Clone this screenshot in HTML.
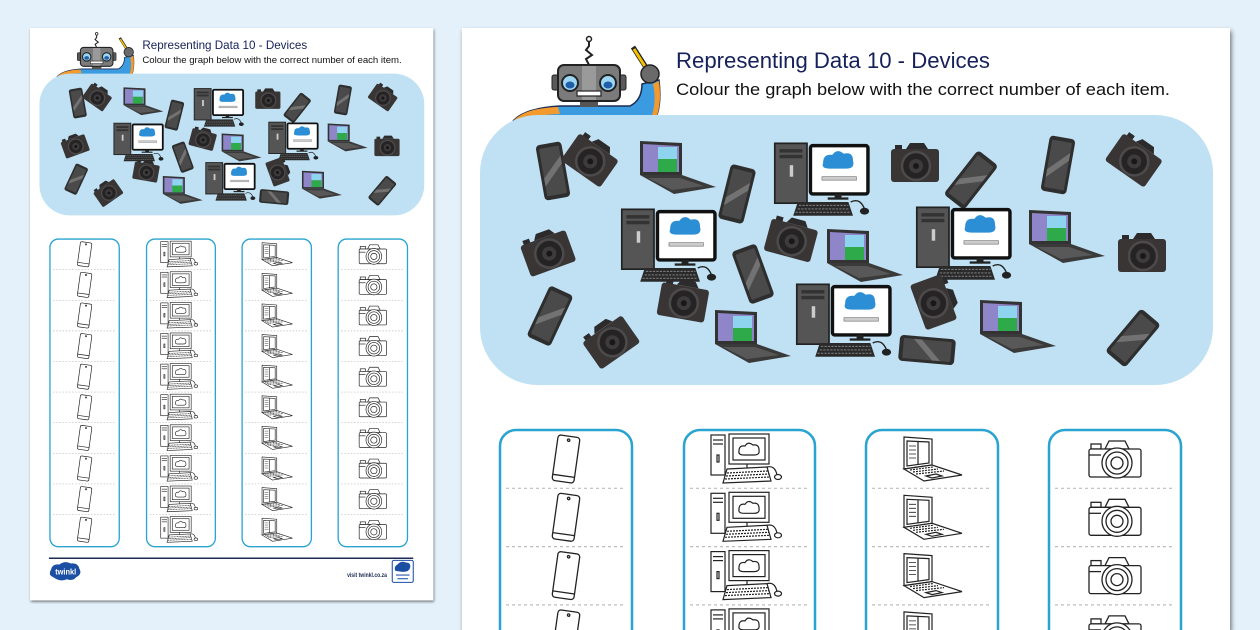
<!DOCTYPE html>
<html><head><meta charset="utf-8">
<style>
html,body{margin:0;padding:0;}
body{width:1260px;height:630px;overflow:hidden;background:#e4f1fb;}
svg{display:block;overflow:hidden;}
text{font-family:"Liberation Sans",sans-serif;}
</style></head>
<body>
<svg width="1260" height="630" viewBox="0 0 1260 630" xmlns="http://www.w3.org/2000/svg" xmlns:xlink="http://www.w3.org/1999/xlink">
<defs>
<filter id="sh" x="-5%" y="-5%" width="110%" height="110%">
  <feDropShadow dx="1.5" dy="3" stdDeviation="2.5" flood-color="#333" flood-opacity="0.65"/>
</filter>
<!-- dark phone -->
<g id="ph">
  <rect x="-13" y="-28" width="26" height="56" rx="4" fill="#2e2e2e"/>
  <rect x="-10" y="-24" width="20" height="48" rx="1" fill="#4a4a4a"/>
  <polygon points="-10,6 10,-14 10,-6 -10,14" fill="#727272"/>
</g>
<!-- dark camera -->
<g id="cam">
  <polygon points="-9,-16 -5,-22 9,-22 13,-16" fill="#2c2a2a"/>
  <rect x="-20" y="-20" width="7" height="5" fill="#2c2a2a"/>
  <rect x="-24" y="-16" width="48" height="33" rx="3" fill="#383534"/>
  <circle cx="1" cy="1" r="14" fill="#252323" stroke="#4c4a4a" stroke-width="2.5"/>
  <circle cx="1" cy="1" r="7" fill="#3d3b3b"/>
  <circle cx="1" cy="1" r="3" fill="#181818"/>
</g>
<!-- laptop -->
<g id="lap">
  <polygon points="-38,-26 4,-24 4,8 -38,8" fill="#333"/>
  <polygon points="-35,-23 1,-21 1,5 -35,5" fill="#8e86c8"/>
  <rect x="-20" y="-20" width="19" height="12" fill="#8ed4ee"/>
  <rect x="-20" y="-8" width="19" height="13" fill="#2eaa4a"/>
  <polygon points="-38,8 4,8 38,20 -4,27" fill="#3a3a3a"/>
  <polygon points="-30,11 2,11 26,19 -6,23" fill="#585858"/>
</g>
<!-- desktop computer -->
<g id="pc">
  <rect x="-48" y="-31" width="28" height="52" fill="#555" stroke="#222" stroke-width="1.5"/>
  <rect x="-44" y="-26" width="20" height="3" fill="#333"/>
  <rect x="-44" y="-21" width="20" height="3" fill="#333"/>
  <rect x="-35" y="-12" width="3" height="10" fill="#ccc"/>
  <rect x="-17" y="-29" width="50" height="42" rx="2" fill="#fff" stroke="#111" stroke-width="3"/>
  <path d="M-6,-14 q0,-8 8,-7 q4,-6 10,-1 q8,-2 8,6 q2,7 -6,7 h-14 q-8,0 -6,-5z" fill="#2c8fd6"/>
  <rect x="-7" y="-2" width="30" height="3" fill="#ccc" stroke="#666" stroke-width="0.5"/>
  <rect x="4" y="13" width="6" height="4" fill="#222"/>
  <rect x="-2" y="16" width="18" height="2" fill="#222"/>
  <polygon points="-28,20 16,20 20,32 -32,32" fill="#2a2a2a"/>
  <path d="M-27,23 H16 M-28,26 H17 M-30,29 H18" stroke="#777" stroke-width="1" stroke-dasharray="2 1"/>
  <path d="M18,20 q8,-4 12,6" fill="none" stroke="#222" stroke-width="1.2"/>
  <ellipse cx="30" cy="28" rx="4" ry="3" fill="#222"/>
</g>
<!-- outline icons -->
<g id="oph" fill="none" stroke="#222" stroke-width="1.3">
  <g transform="rotate(8)">
    <rect x="-11" y="-23" width="22" height="46" rx="3"/>
    <line x1="-11" y1="17" x2="11" y2="17"/>
    <circle cx="0" cy="-19" r="1.2"/>
  </g>
</g>
<g id="opc" fill="none" stroke="#222" stroke-width="1.2">
  <rect x="-40" y="-24" width="14" height="40" fill="#fff"/>
  <line x1="-38" y1="-19" x2="-28" y2="-19"/>
  <line x1="-38" y1="-15" x2="-28" y2="-15"/>
  <rect x="-34" y="-4" width="2" height="7"/>
  <rect x="-22" y="-25" width="40" height="30" fill="#fff"/>
  <rect x="-18" y="-21" width="32" height="22"/>
  <path d="M-12,-8 q0,-6 6,-5 q3,-5 8,-1 q6,-1 6,5 q1,5 -5,5 h-10 q-6,0 -5,-4z"/>
  <line x1="-4" y1="5" x2="-4" y2="9"/>
  <polygon points="-24,10 16,8 20,22 -28,24" fill="#fff"/>
  <path d="M-24,14 L17,12 M-25,17 L18,15 M-26,20 L19,18" stroke-dasharray="2 1"/>
  <path d="M16,8 q8,-2 10,8"/>
  <ellipse cx="27" cy="18" rx="3.5" ry="2.5"/>
</g>
<g id="olap" fill="none" stroke="#222" stroke-width="1.2">
  <polygon points="-26,-22 2,-20 2,6 -26,10" fill="#fff"/>
  <polygon points="-23,-18 -1,-17 -1,4 -23,7"/>
  <line x1="-12" y1="-17" x2="-12" y2="6"/>
  <path d="M-21,-13 H-14 M-21,-9 H-14 M-21,-5 H-14 M-21,-1 H-14" stroke-width="0.8"/>
  <polygon points="-26,10 2,6 32,16 -6,22" fill="#fff"/>
  <path d="M-20,11 L3,8 M-17,13 L8,10 M-14,15 L14,12" stroke-dasharray="2 1"/>
  <polygon points="-4,17 6,15 12,17 2,19"/>
</g>
<g id="ocam" fill="none" stroke="#222" stroke-width="1.3">
  <polygon points="-10,-10 -6,-18 10,-18 14,-10" fill="#fff"/>
  <rect x="-24" y="-15" width="10" height="5"/>
  <rect x="-26" y="-10" width="52" height="28" rx="2" fill="#fff"/>
  <line x1="-26" y1="-4" x2="-14" y2="-4"/>
  <circle cx="2" cy="4" r="15" fill="#fff"/>
  <circle cx="2" cy="4" r="11"/>
  <circle cx="2" cy="4" r="6"/>
</g>

<!-- full page artwork (right-page scale, page coords) -->
<g id="art">
  <rect x="0" y="0" width="768" height="1090" fill="#fff"/>
  <!-- robot -->
  <path d="M52,92 Q64,80 98,78 L168,78 Q180,72 180,56 L197,52 Q200,82 192,92Z" fill="#3a9be0" stroke="#1d2b52" stroke-width="1.5"/>
  <path d="M52,92 Q64,80 96,79 L98,86 Q76,86 64,93Z" fill="#f39a2e"/>
  <path d="M191,56 L197,53 Q200,76 194,90 L189,90 Q195,74 191,56Z" fill="#f39a2e"/>
  <rect x="118" y="70" width="18" height="9" fill="#555"/>
  <rect x="90" y="47" width="8" height="15" rx="2" fill="#5a5a5a" stroke="#222"/>
  <rect x="156" y="47" width="8" height="15" rx="2" fill="#5a5a5a" stroke="#222"/>
  <rect x="96" y="37" width="62" height="36" rx="6" fill="#7b7b7b" stroke="#222" stroke-width="2"/>
  <rect x="120" y="38" width="14" height="34" fill="#9a9a9a"/>
  <circle cx="108" cy="55" r="8" fill="#9dd6f2" stroke="#222" stroke-width="2"/>
  <ellipse cx="108" cy="57" rx="4.5" ry="3.5" fill="#1f5fa8"/>
  <circle cx="146" cy="55" r="8" fill="#9dd6f2" stroke="#222" stroke-width="2"/>
  <ellipse cx="146" cy="57" rx="4.5" ry="3.5" fill="#1f5fa8"/>
  <rect x="115" y="63" width="24" height="5" fill="#fff" stroke="#222" stroke-width="1.2"/>
  <path d="M127,37 l-3,-6 l6,-4 l-6,-5 l3,-4 v-5" fill="none" stroke="#222" stroke-width="2"/>
  <circle cx="127" cy="11" r="2.5" fill="#fff" stroke="#222" stroke-width="1.5"/>
  <line x1="171" y1="19" x2="185" y2="41" stroke="#222" stroke-width="5"/>
  <line x1="172" y1="21" x2="184" y2="40" stroke="#f2c200" stroke-width="3"/>
  <circle cx="188" cy="46" r="9" fill="#6a6a6a" stroke="#222" stroke-width="1.5"/>
  <!-- blue region -->
  <rect x="18" y="87" width="733" height="270" rx="58" fill="#bfe1f3"/>
  <!-- items -->
  <use xlink:href="#ph" transform="translate(91,143) rotate(-10)"/>
  <use xlink:href="#cam" transform="translate(128,132) rotate(35)"/>
  <use xlink:href="#lap" transform="translate(216,139)"/>
  <use xlink:href="#ph" transform="translate(275,166) rotate(14)"/>
  <use xlink:href="#pc" transform="translate(368,151) scale(1.15)"/>
  <use xlink:href="#cam" transform="translate(453,137)"/>
  <use xlink:href="#ph" transform="translate(509,152) rotate(38)"/>
  <use xlink:href="#ph" transform="translate(596,137) rotate(10)"/>
  <use xlink:href="#cam" transform="translate(672,132) rotate(35)"/>

  <use xlink:href="#cam" transform="translate(86,225) rotate(-20)"/>
  <use xlink:href="#pc" transform="translate(215,217) scale(1.15)"/>
  <use xlink:href="#cam" transform="translate(329,212) rotate(15)"/>
  <use xlink:href="#ph" transform="translate(291,246) rotate(-20)"/>
  <use xlink:href="#lap" transform="translate(403,227)"/>
  <use xlink:href="#pc" transform="translate(510,215) scale(1.15)"/>
  <use xlink:href="#lap" transform="translate(605,208)"/>
  <use xlink:href="#cam" transform="translate(680,227)"/>

  <use xlink:href="#ph" transform="translate(88,288) rotate(25)"/>
  <use xlink:href="#cam" transform="translate(221,274) rotate(10)"/>
  <use xlink:href="#cam" transform="translate(149,314) rotate(-35)"/>
  <use xlink:href="#lap" transform="translate(291,308)"/>
  <use xlink:href="#pc" transform="translate(390,292) scale(1.15)"/>
  <use xlink:href="#cam" transform="translate(472,274) rotate(70)"/>
  <use xlink:href="#ph" transform="translate(465,322) rotate(-85)"/>
  <use xlink:href="#lap" transform="translate(556,298)"/>
  <use xlink:href="#ph" transform="translate(671,310) rotate(40)"/>

  <!-- column boxes -->
  <g fill="#fff" stroke="#29a3d0" stroke-width="2.5">
    <rect x="38" y="402" width="132" height="586" rx="16"/>
    <rect x="222" y="402" width="131" height="586" rx="16"/>
    <rect x="404" y="402" width="132" height="586" rx="16"/>
    <rect x="587" y="402" width="132" height="586" rx="16"/>
  </g>
  <g stroke="#bdbdbd" stroke-width="1.2" stroke-dasharray="3 3">
    <path d="M44,460.3H164M44,518.6H164M44,576.9H164M44,635.2H164M44,693.5H164M44,751.8H164M44,810.1H164M44,868.4H164M44,926.7H164"/>
    <path d="M228,460.3H347M228,518.6H347M228,576.9H347M228,635.2H347M228,693.5H347M228,751.8H347M228,810.1H347M228,868.4H347M228,926.7H347"/>
    <path d="M410,460.3H530M410,518.6H530M410,576.9H530M410,635.2H530M410,693.5H530M410,751.8H530M410,810.1H530M410,868.4H530M410,926.7H530"/>
    <path d="M593,460.3H713M593,518.6H713M593,576.9H713M593,635.2H713M593,693.5H713M593,751.8H713M593,810.1H713M593,868.4H713M593,926.7H713"/>
  </g>
  <!-- column icons -->
  <use xlink:href="#oph" transform="translate(104,431)"/>
  <use xlink:href="#oph" transform="translate(104,489.3)"/>
  <use xlink:href="#oph" transform="translate(104,547.6)"/>
  <use xlink:href="#oph" transform="translate(104,605.9)"/>
  <use xlink:href="#oph" transform="translate(104,664.2)"/>
  <use xlink:href="#oph" transform="translate(104,722.5)"/>
  <use xlink:href="#oph" transform="translate(104,780.8)"/>
  <use xlink:href="#oph" transform="translate(104,839.1)"/>
  <use xlink:href="#oph" transform="translate(104,897.4)"/>
  <use xlink:href="#oph" transform="translate(104,955.7)"/>

  <use xlink:href="#opc" transform="translate(289,431)"/>
  <use xlink:href="#opc" transform="translate(289,489.3)"/>
  <use xlink:href="#opc" transform="translate(289,547.6)"/>
  <use xlink:href="#opc" transform="translate(289,605.9)"/>
  <use xlink:href="#opc" transform="translate(289,664.2)"/>
  <use xlink:href="#opc" transform="translate(289,722.5)"/>
  <use xlink:href="#opc" transform="translate(289,780.8)"/>
  <use xlink:href="#opc" transform="translate(289,839.1)"/>
  <use xlink:href="#opc" transform="translate(289,897.4)"/>
  <use xlink:href="#opc" transform="translate(289,955.7)"/>

  <use xlink:href="#olap" transform="translate(468,431)"/>
  <use xlink:href="#olap" transform="translate(468,489.3)"/>
  <use xlink:href="#olap" transform="translate(468,547.6)"/>
  <use xlink:href="#olap" transform="translate(468,605.9)"/>
  <use xlink:href="#olap" transform="translate(468,664.2)"/>
  <use xlink:href="#olap" transform="translate(468,722.5)"/>
  <use xlink:href="#olap" transform="translate(468,780.8)"/>
  <use xlink:href="#olap" transform="translate(468,839.1)"/>
  <use xlink:href="#olap" transform="translate(468,897.4)"/>
  <use xlink:href="#olap" transform="translate(468,955.7)"/>

  <use xlink:href="#ocam" transform="translate(653,431)"/>
  <use xlink:href="#ocam" transform="translate(653,489.3)"/>
  <use xlink:href="#ocam" transform="translate(653,547.6)"/>
  <use xlink:href="#ocam" transform="translate(653,605.9)"/>
  <use xlink:href="#ocam" transform="translate(653,664.2)"/>
  <use xlink:href="#ocam" transform="translate(653,722.5)"/>
  <use xlink:href="#ocam" transform="translate(653,780.8)"/>
  <use xlink:href="#ocam" transform="translate(653,839.1)"/>
  <use xlink:href="#ocam" transform="translate(653,897.4)"/>
  <use xlink:href="#ocam" transform="translate(653,955.7)"/>

  <!-- footer -->
  <line x1="36" y1="1010" x2="730" y2="1010" stroke="#1d2b52" stroke-width="3"/>
  <path d="M44,1046 q-10,-4 -4,-14 q2,-12 16,-10 q10,-8 22,-2 q14,-2 16,10 q6,10 -6,16 q-6,8 -18,4 q-12,6 -26,-4z" fill="#1b4fa3"/>
  <rect x="690" y="1014" width="40" height="42" rx="3" fill="#fff" stroke="#1b4fa3" stroke-width="2"/>
  <path d="M696,1034 q-4,-8 4,-12 q6,-8 16,-4 q10,0 8,10 q-2,8 -14,8z" fill="#1b4fa3"/>
  <line x1="697" y1="1042" x2="723" y2="1042" stroke="#1b4fa3" stroke-width="2"/>
  <line x1="700" y1="1049" x2="720" y2="1049" stroke="#1b4fa3" stroke-width="2"/>
</g>

<!-- right page as pattern tile so it is naturally cut at the frame -->
<pattern id="rp" patternUnits="userSpaceOnUse" x="462" y="28" width="768" height="1090">
  <use xlink:href="#art"/>
</pattern>
</defs>

<!-- Right page -->
<rect x="462" y="28" width="768" height="602" fill="#fff" filter="url(#sh)"/>
<rect x="462" y="28" width="768" height="602" fill="url(#rp)"/>
<g transform="translate(462,28)">
  <text x="214" y="40" font-size="22" fill="#16215a" textLength="314" lengthAdjust="spacingAndGlyphs">Representing Data 10 - Devices</text>
  <text x="214" y="67" font-size="17" fill="#111" textLength="494" lengthAdjust="spacingAndGlyphs">Colour the graph below with the correct number of each item.</text>
</g>

<!-- Left page -->
<g transform="translate(30,28) scale(0.525)">
  <rect x="0" y="0" width="768" height="1090" fill="#fff" filter="url(#sh)"/>
  <use xlink:href="#art"/>
  <text x="214" y="40" font-size="22" fill="#16215a" textLength="314" lengthAdjust="spacingAndGlyphs">Representing Data 10 - Devices</text>
  <text x="214" y="67" font-size="17" fill="#111" textLength="494" lengthAdjust="spacingAndGlyphs">Colour the graph below with the correct number of each item.</text>
  <text x="48" y="1041" font-size="15" font-weight="bold" fill="#fff" textLength="40" lengthAdjust="spacingAndGlyphs">twinkl</text>
  <text x="604" y="1046" font-size="12" font-weight="bold" fill="#1d2b52" textLength="76" lengthAdjust="spacingAndGlyphs">visit twinkl.co.za</text>
</g>
</svg>
</body></html>
